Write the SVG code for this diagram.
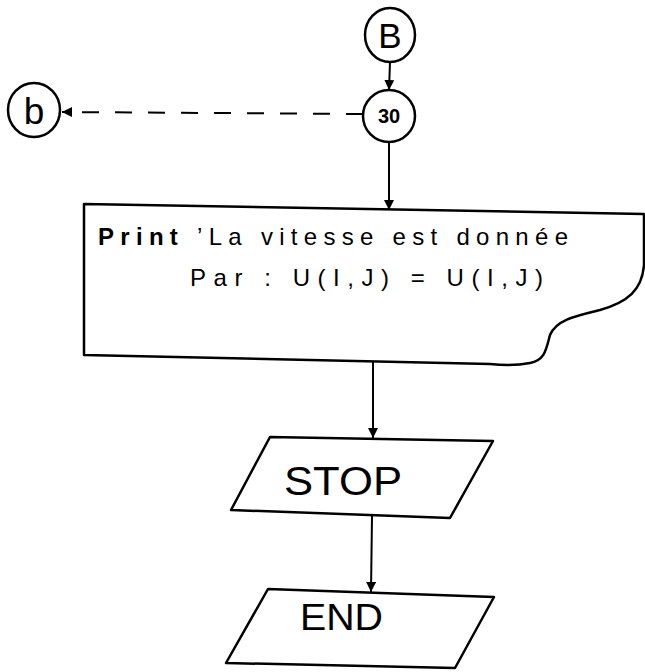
<svg xmlns="http://www.w3.org/2000/svg" width="645" height="672" viewBox="0 0 645 672">
<defs>
<marker id="ah" viewBox="0 0 10 10" refX="10" refY="5" markerWidth="10" markerHeight="10" markerUnits="userSpaceOnUse" orient="auto">
<path d="M0,0 L10,5 L0,10 Z" fill="#000"/>
</marker>
<style>
.s{fill:#fff;stroke:#000;stroke-width:2.5;stroke-linejoin:round}
.c{fill:none;stroke:#000;stroke-width:2}
.t{font-family:"Liberation Sans",Arial,sans-serif;fill:#000}
</style>
</defs>
<rect width="645" height="672" fill="#fff"/>
<g id="connectors">
<line class="c" x1="390" y1="62" x2="389" y2="90" marker-end="url(#ah)"/>
<line class="c" x1="363" y1="114" x2="62" y2="112" stroke-dasharray="17 16" marker-end="url(#ah)"/>
<line class="c" x1="389" y1="143" x2="389" y2="210" marker-end="url(#ah)"/>
<line class="c" x1="373" y1="361" x2="373" y2="438" marker-end="url(#ah)"/>
<line class="c" x1="372" y1="516" x2="371" y2="592" marker-end="url(#ah)"/>
</g>
<g id="nodeB">
<ellipse class="s" cx="390" cy="35" rx="25" ry="27"/>
<text class="t" x="390" y="48" font-size="35" text-anchor="middle">B</text>
</g>
<g id="node30">
<ellipse class="s" cx="389" cy="116" rx="26" ry="26"/>
<text class="t" x="389" y="123" font-size="20" font-weight="bold" text-anchor="middle">30</text>
</g>
<g id="nodeb">
<ellipse class="s" cx="34" cy="110" rx="26" ry="27"/>
<text class="t" x="34" y="124" font-size="37" text-anchor="middle">b</text>
</g>
<g id="print">
<path class="s" d="M84 204 L644 214 L644 265 C642 290 628 302 600 310 C575 316 556 320 550 335 C546 350 545 360 530 363 C515 366 500 365 490 364 L84 355 Z"/>
<text class="t" x="98" y="245" font-size="24" textLength="470" lengthAdjust="spacing"><tspan font-weight="bold">Print</tspan> ’La vitesse est donnée</text>
<text class="t" x="190" y="286" font-size="24" textLength="353" lengthAdjust="spacing">Par :  U(I,J) = U(I,J)</text>
</g>
<g id="stop">
<path class="s" d="M270 437 L493 441 L450 518 L231 510 Z"/>
<text class="t" x="284" y="495" font-size="40" textLength="118" lengthAdjust="spacingAndGlyphs">STOP</text>
</g>
<g id="end">
<path class="s" d="M268 589 L494 597 L455 668 L226 663 Z"/>
<text class="t" x="300" y="630" font-size="37" textLength="83" lengthAdjust="spacingAndGlyphs">END</text>
</g>
</svg>
